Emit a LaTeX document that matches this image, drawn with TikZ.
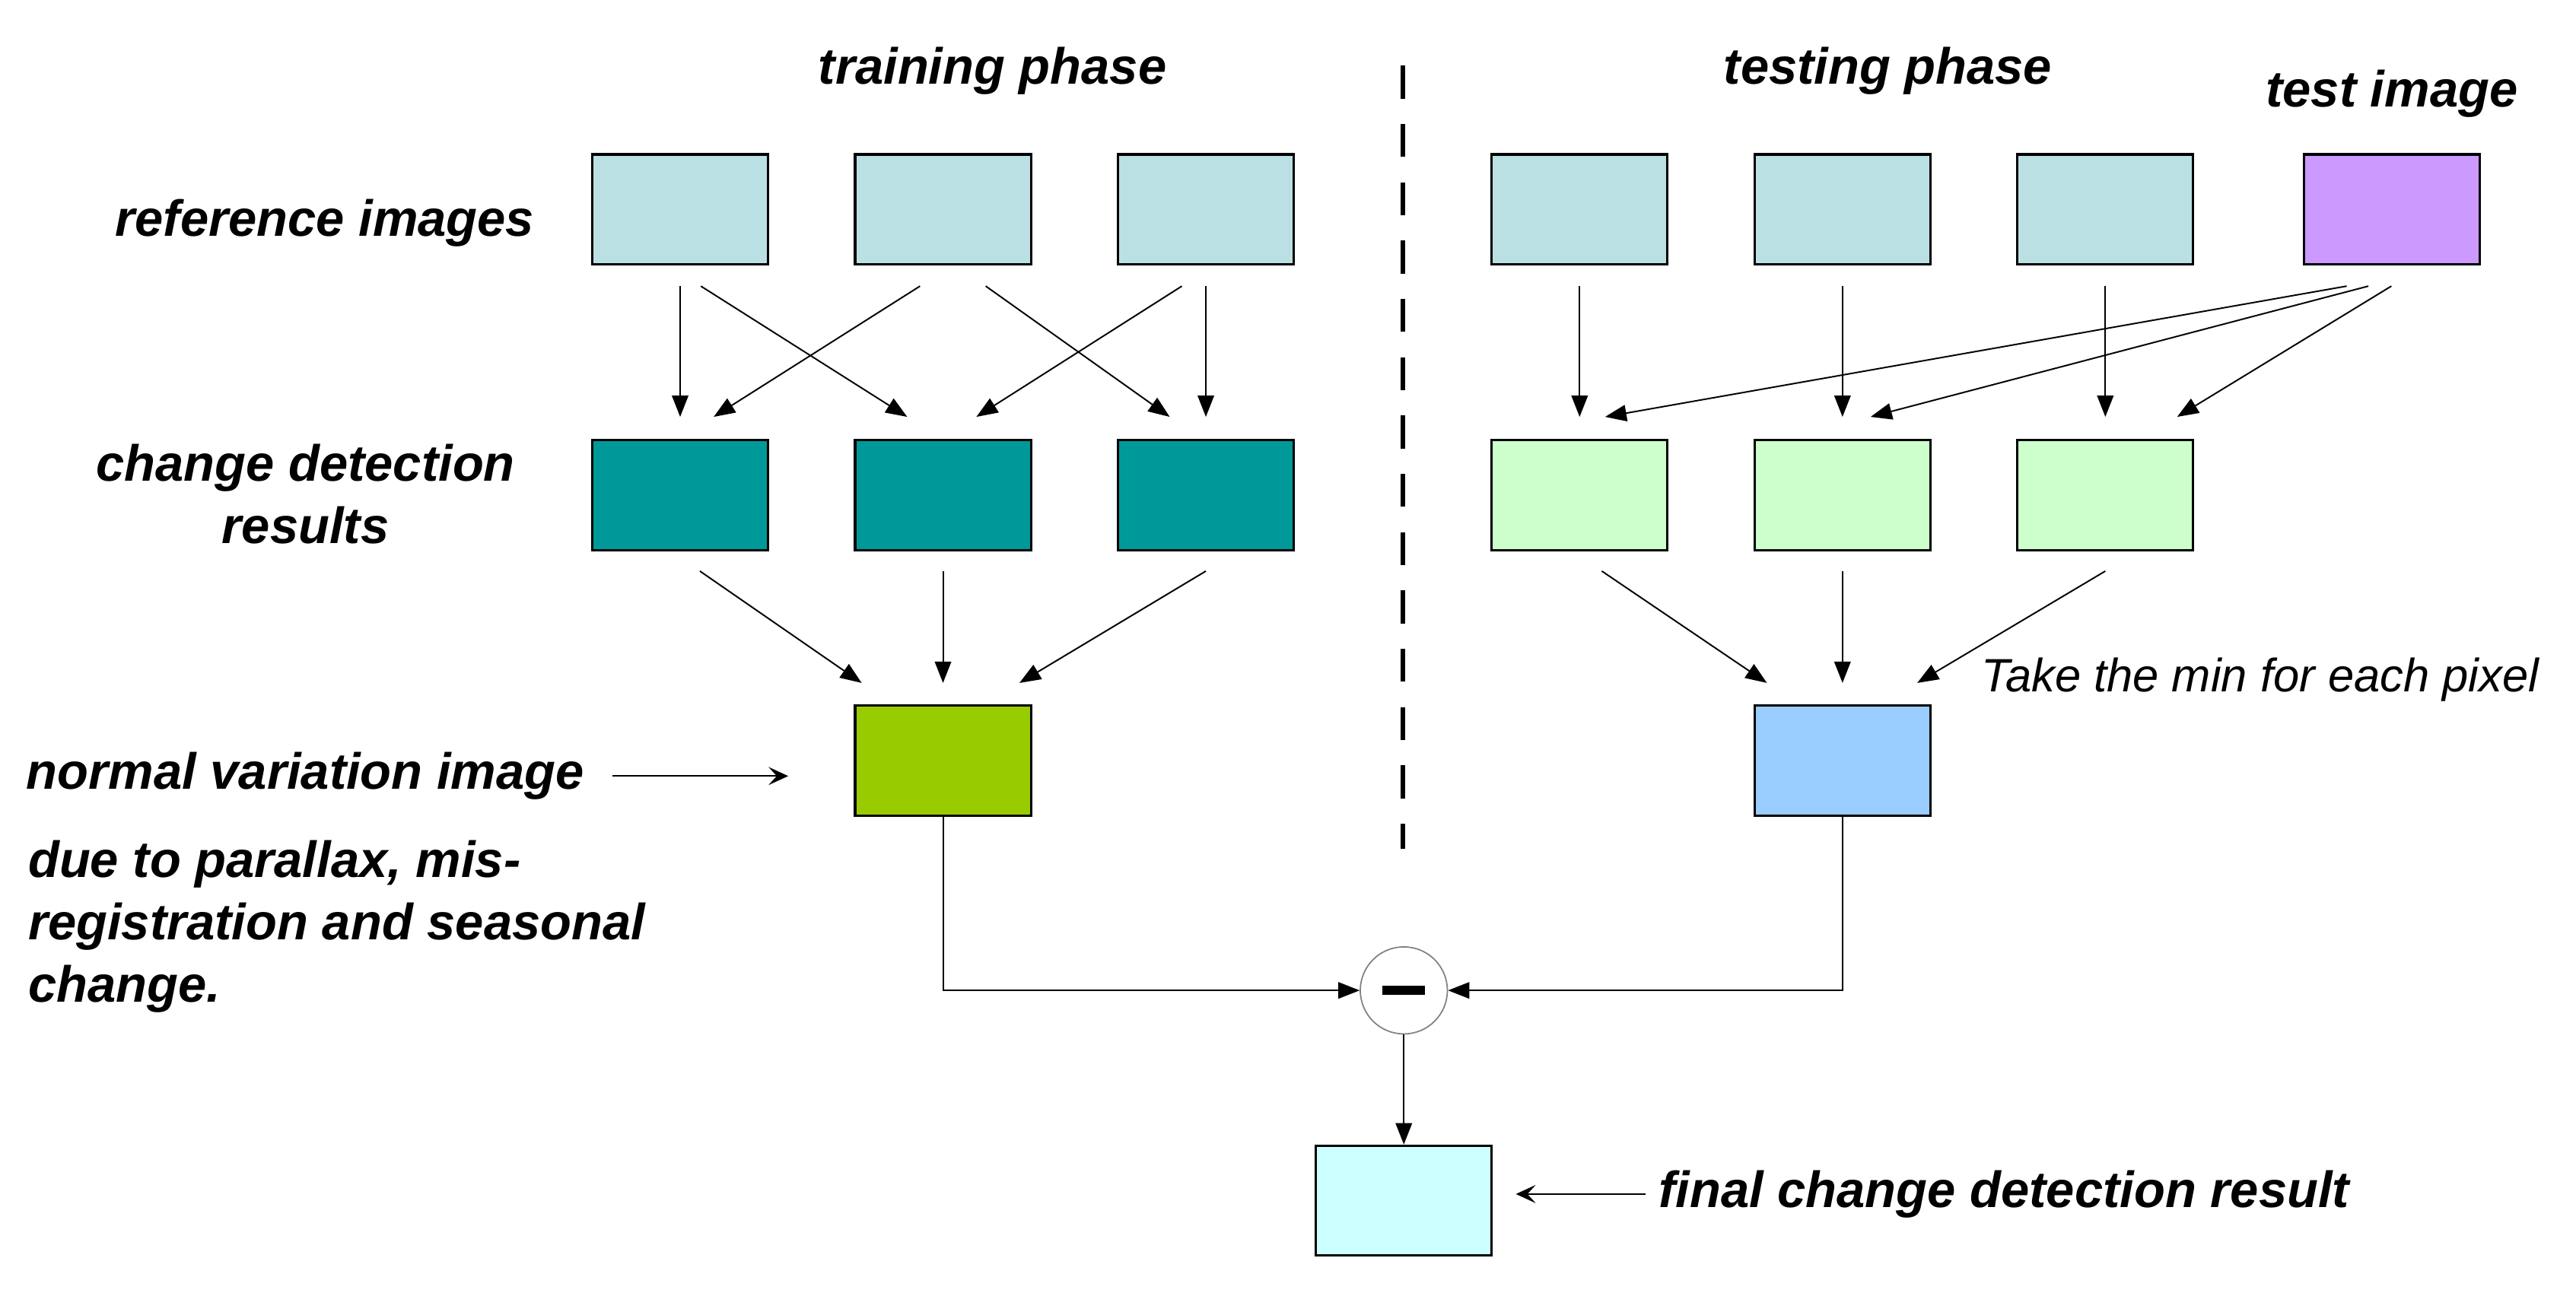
\documentclass[tikz,border=0pt]{standalone}
\usepackage{fontspec}
\setmainfont{Liberation Sans}
\usepackage{tikz}
\usetikzlibrary{calc,positioning,arrows.meta}
\definecolor{refblue}{HTML}{BBE0E3}
\definecolor{cdteal}{HTML}{009999}
\definecolor{testviolet}{HTML}{CC99FF}
\definecolor{minigreen}{HTML}{CCFFCC}
\definecolor{normgreen}{HTML}{99CC00}
\definecolor{minblue}{HTML}{99CCFF}
\definecolor{finalcyan}{HTML}{CCFFFF}

\begin{document}
\begin{tikzpicture}[x=1pt, y=-1pt,
  img/.style={draw, line width=1.4pt, minimum width=107pt, minimum height=67pt, inner sep=0pt},
  lbl/.style={font=\fontsize{31}{38}\selectfont\bfseries\itshape, inner sep=0pt},
  arr/.style={line width=0.9pt, -{Triangle[length=13pt,width=10pt]}},
  barb/.style={line width=1pt, -{Stealth[length=12pt,width=11pt,inset=5pt]}}]
\useasboundingbox (0,0) rectangle (1568,787);

% image boxes
\foreach \i/\x in {1/414, 2/574, 3/734}{
  \node[img, fill=refblue] (r\i) at (\x,127.5) {};
  \node[img, fill=cdteal] (c\i) at (\x,301.5) {};
}
\foreach \i/\x in {1/961.5, 2/1121.5, 3/1281.5}{
  \node[img, fill=refblue] (t\i) at (\x,127.5) {};
  \node[img, fill=minigreen] (d\i) at (\x,301.5) {};
}
\node[img, fill=testviolet] (ti) at (1456,127.5) {};
\node[img, fill=normgreen] (n) at (574,463) {};
\node[img, fill=minblue] (m) at (1121.5,463) {};
\node[draw=gray, line width=0.8pt, circle, minimum size=53pt, inner sep=0pt] (s) at (854.5,603) {\rule{26pt}{5.5pt}};
\node[img, fill=finalcyan] (f) at (854.5,731) {};

% phase separator
\draw[line width=2.8pt, dash pattern=on 20pt off 15.5pt] (854,40) -- (854,517);

% labels
\node[lbl, anchor=base west] (tr) at (498,51) {training phase};
\node[lbl, anchor=base west] (te) at (1049,51) {testing phase};
\node[lbl, anchor=base west] (tim) at (1379,65) {test image};
\node[lbl, anchor=base west] (ref) at (70,144) {reference images};
\node[lbl, align=center, anchor=base] (cdr) at (186,331) {change detection\\results};
\node[lbl, anchor=base west] (nvi) at (16,480.5) {normal variation image};
\node[lbl, align=left, anchor=base west] (due) at (17,610) {due to parallax, mis-\\registration and seasonal\\change.};
\node[lbl, anchor=base west] (fcd) at (1009.5,735) {final change detection result};
\node[font=\fontsize{28.5}{32}\selectfont\itshape, inner sep=0pt, anchor=base west] (tmin) at (1205.7,421) {Take the min for each pixel};

% training arrows
\foreach \a/\p/\b/\q in {r1/0/c1/0, r1/12.6/c2/-21.8, r2/-14/c1/20.4, r2/26/c3/-22, r3/-14.6/c2/20.3, r3/0/c3/0,
                         t1/0/d1/0, t2/0/d2/0, t3/0/d3/0, ti/-27.6/d1/15.5, ti/-14.4/d2/17.1, ti/-0.4/d3/43.7}{
  \draw[arr] ($(\a.south)+(\p,12.5)$) -- ($(\b.north)+(\q,-13.5)$);
}
\foreach \a/\p/\b/\q in {c1/12/n/-49.5, c2/0/n/0, c3/0/n/46.5, d1/13.5/m/-46, d2/0/m/0, d3/0/m/45.5}{
  \draw[arr] ($(\a.south)+(\p,12)$) -- ($(\b.north)+(\q,-13)$);
}

\draw[arr] (n.south) |- (s.west);
\draw[arr] (m.south) |- (s.east);
\draw[arr] (s.south) -- (f.north);

\draw[barb] ($(nvi.east)+(17,0)$) -- ($(n.west |- nvi.east)+(-40,0)$);
\draw[barb] ($(fcd.west)+(-8,0)$) -- ($(f.east |- fcd.west)+(14,0)$);

\end{tikzpicture}
\end{document}
